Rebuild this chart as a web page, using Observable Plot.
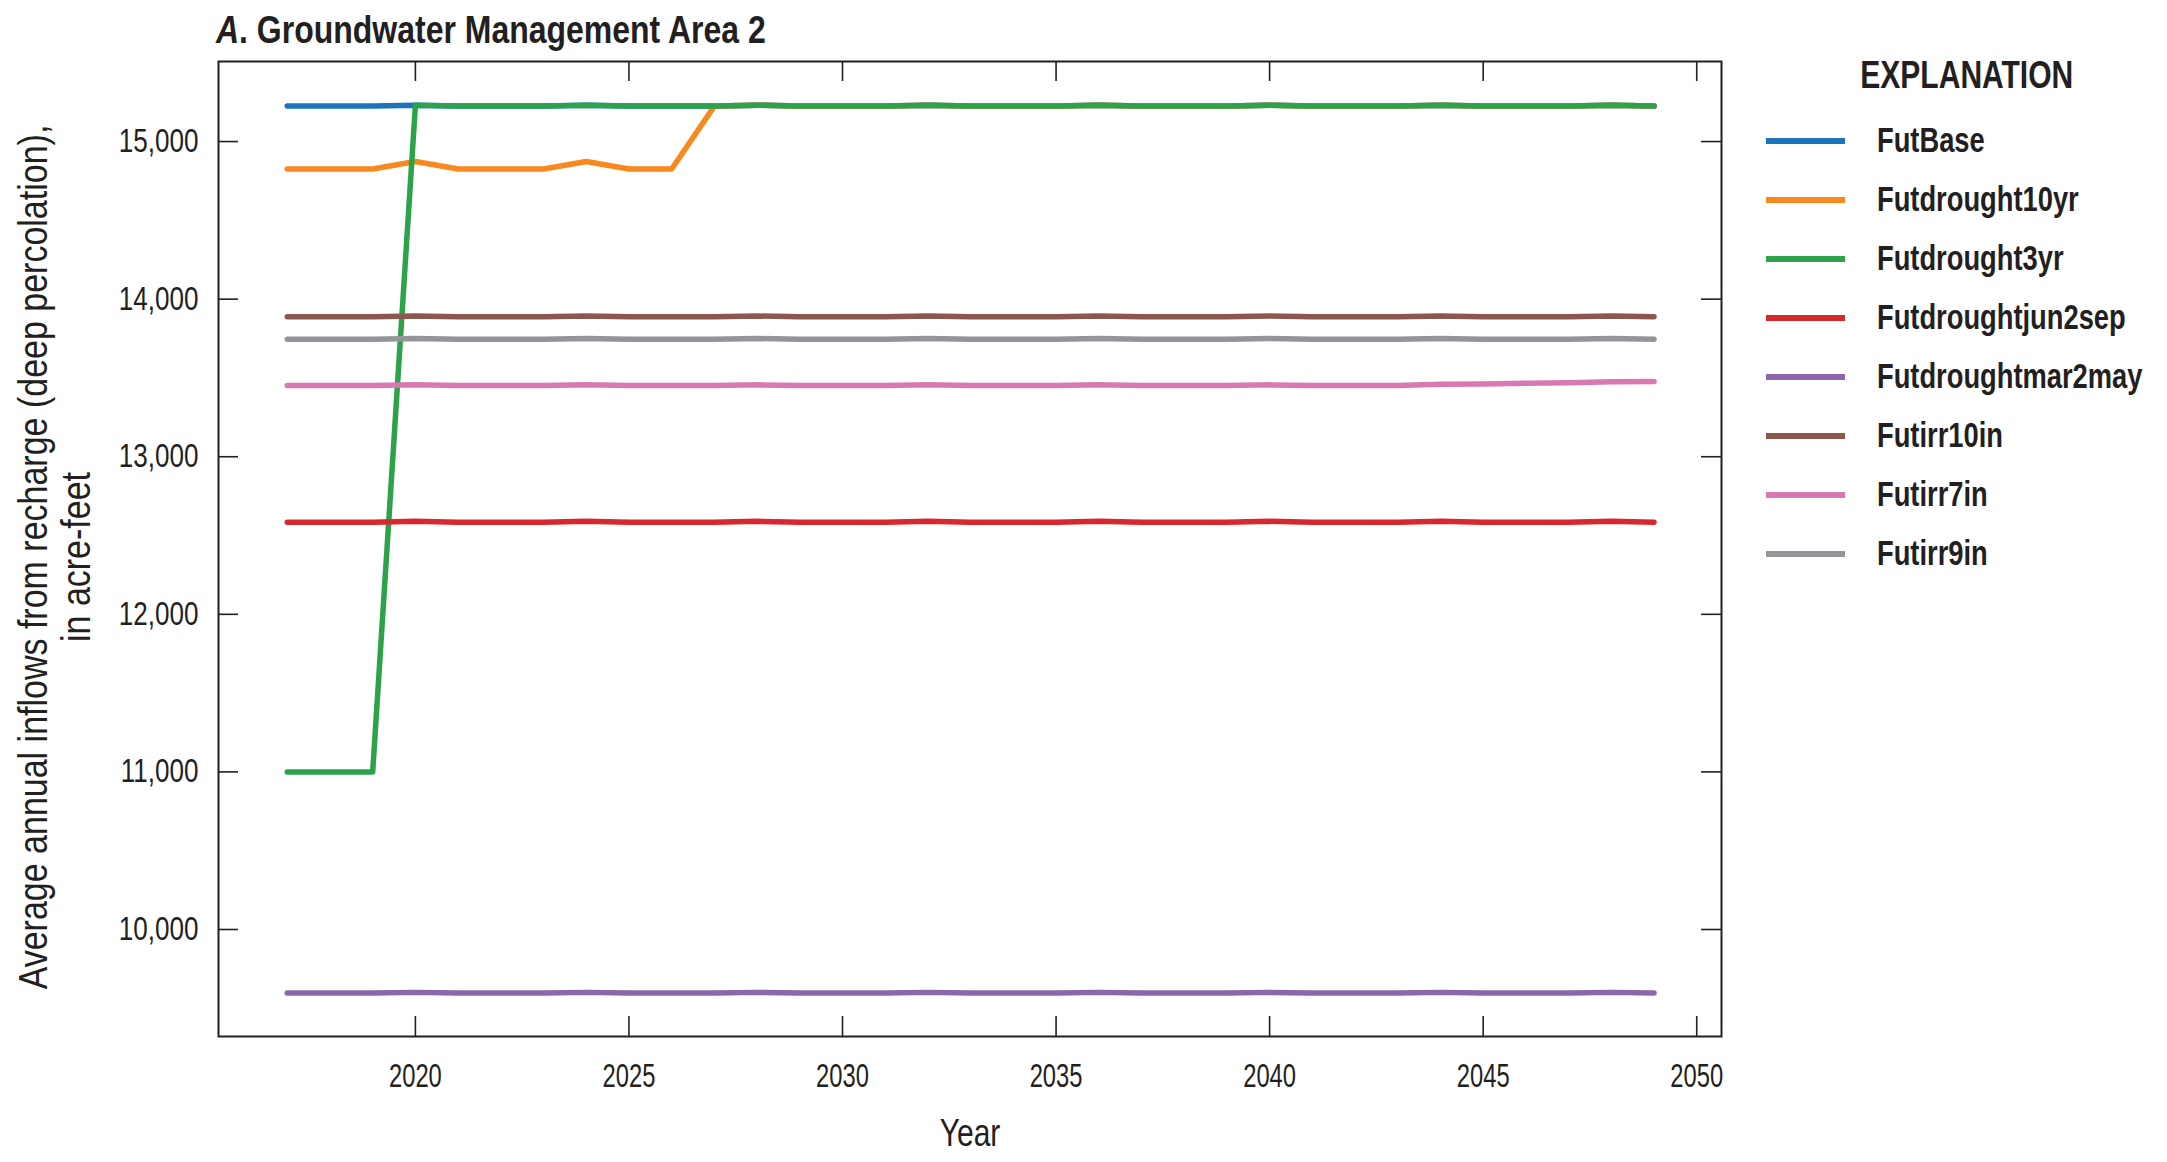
<!DOCTYPE html>
<html>
<head>
<meta charset="utf-8">
<script src="https://cdn.jsdelivr.net/npm/d3@7"></script>
<script src="https://cdn.jsdelivr.net/npm/@observablehq/plot@0.6"></script>
<style>
  body { margin: 0; background: #fff; }
  #wrap { position: relative; width: 2167px; height: 1162px; overflow: hidden;
          font-family: "Liberation Sans", Arial, sans-serif; color: #231f20; }
  #chart { position: absolute; left: 0; top: 0; }
  #chart svg { font-family: "Liberation Sans", Arial, sans-serif; }
  #title { position: absolute; left: 216px; top: 10px; font-size: 39px; line-height: 39px; font-weight: bold;
           white-space: nowrap; transform: scaleX(0.82); transform-origin: 0 0; }
  #legend-title { position: absolute; left: 1767px; width: 400px; top: 56px; text-align: center; }
  #legend-title span { display: inline-block; font-size: 38px; line-height: 38px; font-weight: bold;
           transform: scaleX(0.79); transform-origin: 50% 0; }
  #legend { position: absolute; left: 1766px; top: 111.5px; }
  .row { display: flex; align-items: center; height: 59px; }
  .sw { width: 79px; height: 6px; flex: none; }
  .lab { margin-left: 32px; font-size: 35px; line-height: 35px; font-weight: bold; white-space: nowrap;
         position: relative; top: -2px; transform: scaleX(0.78); transform-origin: 0 50%; }
</style>
</head>
<body>
<div id="wrap">
  <div id="chart"></div>
  <div id="title"><i>A</i>. Groundwater Management Area 2</div>
  <div id="legend-title"><span>EXPLANATION</span></div>
  <div id="legend"></div>
</div>
<script>
const years = [2017,2018,2019,2020,2021,2022,2023,2024,2025,2026,2027,2028,2029,2030,2031,2032,2033,2034,2035,2036,2037,2038,2039,2040,2041,2042,2043,2044,2045,2046,2047,2048,2049];

const seriesNames = ["FutBase","Futdrought10yr","Futdrought3yr","Futdroughtjun2sep","Futdroughtmar2may","Futirr10in","Futirr7in","Futirr9in"];
const seriesColors = ["#1c75bc","#f7891f","#2ca24a","#d7282f","#8c66ac","#8c574c","#d979b1","#939598"];

const futBase = [15225,15225,15225,15231,15225,15225,15225,15231,15225,15225,15225,15231,15225,15225,15225,15231,15225,15225,15225,15231,15225,15225,15225,15231,15225,15225,15225,15231,15225,15225,15225,15231,15225];
const futDrought10yr = [14826,14826,14826,14873,14826,14826,14826,14873,14826,14826,15225,15231,15225,15225,15225,15231,15225,15225,15225,15231,15225,15225,15225,15231,15225,15225,15225,15231,15225,15225,15225,15231,15225];
const futDrought3yr = [11000,11000,11000,15231,15225,15225,15225,15231,15225,15225,15225,15231,15225,15225,15225,15231,15225,15225,15225,15231,15225,15225,15225,15231,15225,15225,15225,15231,15225,15225,15225,15231,15225];
const futDroughtJun2sep = [12584,12584,12584,12590,12584,12584,12584,12590,12584,12584,12584,12590,12584,12584,12584,12590,12584,12584,12584,12590,12584,12584,12584,12590,12584,12584,12584,12590,12584,12584,12584,12590,12584];
const futDroughtMar2may = [9597,9597,9597,9601,9597,9597,9597,9601,9597,9597,9597,9601,9597,9597,9597,9601,9597,9597,9597,9601,9597,9597,9597,9601,9597,9597,9597,9601,9597,9597,9597,9601,9597];
const futIrr10in = [13888,13888,13888,13893,13888,13888,13888,13893,13888,13888,13888,13893,13888,13888,13888,13893,13888,13888,13888,13893,13888,13888,13888,13893,13888,13888,13888,13893,13888,13888,13888,13893,13888];
const futIrr7in = [13452,13452,13452,13456,13452,13452,13452,13456,13452,13452,13452,13456,13452,13452,13452,13456,13452,13452,13452,13456,13452,13452,13452,13456,13452,13452,13452,13460,13462,13466,13470,13476,13477];
const futIrr9in = [13746,13746,13746,13750,13746,13746,13746,13750,13746,13746,13746,13750,13746,13746,13746,13750,13746,13746,13746,13750,13746,13746,13746,13750,13746,13746,13746,13750,13746,13746,13746,13750,13746];

const seriesValues = [futBase, futDrought10yr, futDrought3yr, futDroughtJun2sep, futDroughtMar2may, futIrr10in, futIrr7in, futIrr9in];

const xTicks = [2020,2025,2030,2035,2040,2045,2050];
const yTicks = [10000,11000,12000,13000,14000,15000];
const xLabel = "Year";
const yLabel = "Average annual inflows from recharge (deep percolation),\nin acre-feet";

const data = seriesNames.flatMap((name, i) =>
  years.map((yr, j) => ({ year: yr, value: seriesValues[i][j], series: name })));

const W = 1760, H = 1162, mL = 218, mR = 39, mT = 61, mB = 126;
const pw = W - mL - mR, ph = H - mT - mB;
const ink = "#231f20";
const tickLen = 20;

const chart = Plot.plot({
  width: W, height: H,
  marginLeft: mL, marginRight: mR, marginTop: mT, marginBottom: mB,
  style: { background: "#fff", color: ink },
  x: { domain: [2015.39, 2050.58] },
  y: { domain: [9321, 15508] },
  color: { domain: seriesNames, range: seriesColors },
  marks: [
    Plot.lineY(data, { x: "year", y: "value", z: "series", stroke: "series", strokeWidth: 5.5, strokeLinejoin: "round" }),
    Plot.frame({ stroke: ink, strokeWidth: 2 }),
    Plot.tickX(xTicks, { x: d => d, insetTop: ph - tickLen, stroke: ink, strokeWidth: 1.6 }),
    Plot.tickX(xTicks, { x: d => d, insetBottom: ph - tickLen, stroke: ink, strokeWidth: 1.6 }),
    Plot.tickY(yTicks, { y: d => d, insetRight: pw - tickLen, stroke: ink, strokeWidth: 1.6 }),
    Plot.tickY(yTicks, { y: d => d, insetLeft: pw - tickLen, stroke: ink, strokeWidth: 1.6 }),
    Plot.axisX({ ticks: xTicks, tickSize: 0, tickPadding: 27, tickFormat: d => String(d), label: null, fontSize: 33, fill: ink }),
    Plot.axisY({ ticks: yTicks, tickSize: 0, tickPadding: 20, tickFormat: d3.format(","), label: null, fontSize: 33, fill: ink }),
    Plot.text([xLabel], { frameAnchor: "bottom", lineAnchor: "middle", dy: 97, text: d => d, fontSize: 38, fill: ink }),
    Plot.text([yLabel], { frameAnchor: "left", textAnchor: "middle", lineAnchor: "middle", dx: -164, dy: 8, rotate: -90,
                          text: d => d, fontSize: 40, lineHeight: 1.075, fill: ink })
  ]
});
document.getElementById("chart").appendChild(chart);

// Condense glyphs horizontally (the reference uses a condensed face).
function condense(elements, s) {
  elements.forEach(el => {
    const t = el.getAttribute("transform") || "";
    const xa = el.getAttribute("x");
    if (xa !== null && isFinite(+xa) && +xa !== 0) el.setAttribute("x", +xa / s);
    el.querySelectorAll("tspan").forEach(ts => {
      const tx = ts.getAttribute("x");
      if (tx !== null && isFinite(+tx) && +tx !== 0) ts.setAttribute("x", +tx / s);
    });
    el.setAttribute("transform", `${t} scale(${s},1)`);
  });
}
condense(chart.querySelectorAll('g[aria-label="x-axis tick label"] text'), 0.72);
condense(chart.querySelectorAll('g[aria-label="y-axis tick label"] text'), 0.79);
const textGroups = chart.querySelectorAll('g[aria-label="text"]');
condense(textGroups[0].querySelectorAll("text"), 0.79);
condense(textGroups[1].querySelectorAll("text"), 0.85);

const legend = document.getElementById("legend");
seriesNames.forEach((name, i) => {
  const row = document.createElement("div");
  row.className = "row";
  const sw = document.createElement("div");
  sw.className = "sw";
  sw.style.background = seriesColors[i];
  const lab = document.createElement("div");
  lab.className = "lab";
  lab.textContent = name;
  row.appendChild(sw);
  row.appendChild(lab);
  legend.appendChild(row);
});
</script>
</body>
</html>
